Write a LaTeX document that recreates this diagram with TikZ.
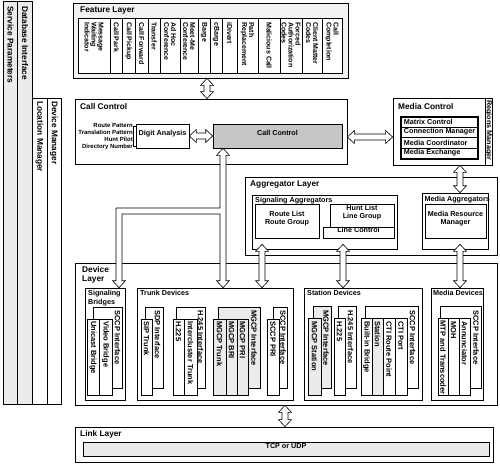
\documentclass[tikz,border=0pt]{standalone}
\usepackage{fontspec}
\setmainfont{Liberation Sans}
\usetikzlibrary{calc,fit}

\newcommand\fntTitle{\bfseries\fontsize{8.3}{9}\selectfont}
\newcommand\fntBox{\bfseries\fontsize{7.2}{8.2}\selectfont}
\newcommand\fntVert{\bfseries\fontsize{7.5}{8}\selectfont}
\newcommand\fntFeat{\bfseries\fontsize{7}{7}\selectfont}
\newcommand\fntSmall{\bfseries\fontsize{6}{7}\selectfont}

\tikzset{
  box/.style={draw, fill=white, line width=0.6pt, inner sep=0pt},
  obox/.style={draw, fill=white, line width=0.8pt, inner sep=0pt},
  gbox/.style={box, fill=gray!16},
  ttl/.style={anchor=north west, inner sep=0pt, font=\fntTitle, align=left},
  stl/.style={anchor=north west, inner sep=0pt, font=\fntBox, align=left},
  vtt/.style={rotate=-90, anchor=west, inner sep=0pt, font=\fntTitle},
  vtd/.style={rotate=-90, anchor=west, inner sep=0pt, font=\fntVert},
  vtf/.style={rotate=-90, anchor=west, inner sep=0pt, font=\fntFeat, align=left},
  hollow/.style={draw, fill=white, line width=0.6pt, line join=miter},
}

\newcommand\varr[2]{\draw[hollow] let \p1=(#1), \p2=(#2) in
  (\x1,\y1) -- ++(6.5pt,-7pt) -- ++(-3.5pt,0) -- (\x1+3pt,\y2+7pt) -- ++(3.5pt,0)
  -- (\x1,\y2) -- ++(-6.5pt,7pt) -- ++(3.5pt,0) -- (\x1-3pt,\y1-7pt) -- ++(-3.5pt,0) -- cycle;}
\newcommand\harr[2]{\draw[hollow] let \p1=(#1), \p2=(#2) in
  (\x1,\y1) -- ++(7pt,6.5pt) -- ++(0,-3.5pt) -- (\x2-7pt,\y1+3pt) -- ++(0,3.5pt)
  -- (\x2,\y1) -- ++(-7pt,-6.5pt) -- ++(0,3.5pt) -- (\x1+7pt,\y1-3pt) -- ++(0,-3.5pt) -- cycle;}

\begin{document}
\begin{tikzpicture}[x=1pt,y=-1pt]
\useasboundingbox (0,0) rectangle (500,464);

% ---------- left bars
\node[gbox, fit={(3,1)(17,404)}] (sp) {};
\node[gbox, fit={(17,1)(32,404)}] (dbi) {};
\node[box, fit={(32,98)(47,404)}] (lm) {};
\node[box, fit={(47,98)(61,404)}] (dm) {};
\node[vtt] (spT) at (10.5,6) {Service Parameters};
\node[vtt] (dbiT) at (25,6) {Database Interface};
\node[vtt] (lmT) at (39.5,101) {Location Manager};
\node[vtt] (dmT) at (54,101) {Device Manager};

% ---------- feature layer
\node[obox, fill=gray!10, fit={(73,3)(348,78)}] (feat) {};
\node[ttl] (featT) at (80,7) {Feature Layer};
\foreach \a/\b/\t in {78/110/{Message\\Waiting\\Indicator}, 110/122.5/{Call Park},
  122.5/135/{Call Pickup}, 135/148/{Call Forward}, 148/160/{Transfer},
  160/180/{Ad Hoc\\Conference}, 180/198/{Meet-Me\\Conference}, 198/210/{Barge},
  210/222/{cBarge}, 222/237/{iDivert}, 237/258/{Path\\Replacement},
  258/280/{Malicious Call}, 280/302/{Forced\\Authorization\\Codes},
  302/322/{Client Matter\\Codes}, 322/342/{Call\\Completion}}{
  \node[box, fit={(\a,18.5)(\b,73)}] (fc\a) {};
  \node[vtf] (ft\a) at ({(\a+\b)/2},22) {\t};
}

% ---------- call control
\node[obox, fit={(75,99)(347,164)}] (cc) {};
\node[ttl] (ccT) at (80,103) {Call Control};
\node[anchor=east, inner sep=0pt, font=\fntSmall, align=right] (pat) at (133,136.5)
  {Route Pattern\\Translation Pattern\\Hunt Pilot\\Directory Number};
\node[box, font=\fntBox, fit={(136,124)(189,148)}] (da) {Digit Analysis};
\draw[line width=0.5pt] (da.west |- 0,126) -- ++(-2,0) -- ++(0,20) -- ++(2,0);
\node[box, fill=gray!45, font=\fntBox, fit={(213,124)(342,148)}] (ccg) {Call Control};

% ---------- media control
\node[obox, fit={(393,98)(492,165)}] (mc) {};
\node[ttl] (mcT) at (398,103) {Media Control};
\node[box, fit={(485,98)(492,165)}] (rm) {};
\node[vtd, font=\fntBox] (rmT) at (488.7,100) {Regions Manager};
\node[box, line width=0.9pt, fit={(400,116)(478,159)}] (mframe) {};
\node[box, fit={(401,117)(477,127)}] (mx) {};
\node[box, fit={(401,127)(477,137)}] (cm) {};
\node[box, fit={(401,137)(477,148)}] (mco) {};
\node[box, fit={(401,148)(477,158)}] (mex) {};
\node[anchor=west, inner sep=0pt, font=\fntBox] at ([xshift=3pt]mx.west) {Matrix Control};
\node[anchor=west, inner sep=0pt, font=\fntBox] at ([xshift=3pt]cm.west) {Connection Manager};
\node[anchor=west, inner sep=0pt, font=\fntBox] at ([xshift=3pt]mco.west) {Media Coordinator};
\node[anchor=west, inner sep=0pt, font=\fntBox] at ([xshift=3pt]mex.west) {Media Exchange};

% ---------- aggregator layer
\node[obox, fit={(245,177)(497,255)}] (agg) {};
\node[ttl] (aggT) at (250,181) {Aggregator Layer};
\node[box, fit={(252,195)(397,249)}] (sig) {};
\node[stl] (sigT) at (255,197.5) {Signaling Aggregators};
\node[box, font=\fntBox, align=center, fit={(255,204)(319,238)}] (rl) {Route List\\Route Group};
\node[box, font=\fntBox, align=center, fit={(330,204)(394,227)}] (hl) {Hunt List\\Line Group};
\node[box, font=\fntBox, fit={(323,227)(394,238)}] (lc) {Line Control};
\node[box, fit={(422,193)(488,249)}] (magg) {};
\node[stl] (maggT) at (424.5,196) {Media Aggregators};
\node[box, font=\fntBox, align=center, fit={(425,204)(486,238)}] (mrm) {Media Resource\\Manager};

% ---------- device layer
\node[obox, fit={(75,263)(497,405)}] (dev) {};
\node[ttl] (devT) at (82,266) {Device\\Layer};

% signaling bridges
\node[box, fit={(85,288)(125,400)}] (sigb) {};
\node[stl] (sigbT) at (88,290.5) {Signaling\\Bridges};
\node[box, fit={(93,307)(122,388)}] (sbp) {};
\node[vtd] at (117.5,310) {SCCP Interface};
\node[box, fit={(87,319)(99,395)}] (ub) {};
\node[vtd] at (93,321) {Unicast Bridge};
\node[box, fit={(99,319)(112,395)}] (vb) {};
\node[vtd] at (105.5,321) {Video Bridge};

% trunk devices
\node[box, fit={(137,288)(293,400)}] (trunk) {};
\node[stl] (trunkT) at (140,290.5) {Trunk Devices};
\node[box, fit={(145,307)(163,388)}] (sdp) {};
\node[vtd] at (157.5,310) {SDP Interface};
\node[box, fit={(141,319)(152,395)}] (sipt) {};
\node[vtd] at (146.5,321) {SIP Trunk};
\node[box, fit={(176,307)(205,388)}] (h245a) {};
\node[vtd] at (200.5,310) {H.245 Interface};
\node[box, fit={(173,319)(184,395)}] (h225a) {};
\node[vtd] at (178.5,321) {H.225};
\node[box, fit={(184,319)(197,395)}] (ict) {};
\node[vtd] at (190.5,321) {Intercluster Trunk};
\node[gbox, fit={(218,307)(260,388)}] (mgcpa) {};
\node[vtd] at (254,310) {MGCP Interface};
\node[gbox, fit={(213,319)(226,395)}] (mgt) {};
\node[vtd] at (219.5,321) {MGCP Trunk};
\node[gbox, fit={(226,319)(237,395)}] (mgb) {};
\node[vtd] at (231.5,321) {MGCP BRI};
\node[gbox, fit={(237,319)(248,395)}] (mgp) {};
\node[vtd] at (242.5,321) {MGCP PRI};
\node[box, fit={(273,307)(287,388)}] (sccpa) {};
\node[vtd] at (283,310) {SCCP Interface};
\node[box, fit={(267,319)(279,395)}] (sccpp) {};
\node[vtd] at (273,321) {SCCP PRI};

% station devices
\node[box, fit={(304,288)(422,400)}] (station) {};
\node[stl] (stationT) at (307,290.5) {Station Devices};
\node[gbox, fit={(313,306)(331,388)}] (mgcpb) {};
\node[vtd] at (326,310) {MGCP Interface};
\node[gbox, fit={(308,318)(321,395)}] (mgs) {};
\node[vtd] at (314.5,321) {MGCP Station};
\node[box, fit={(338,306)(356,388)}] (h245b) {};
\node[vtd] at (350.5,310) {H.245 Interface};
\node[box, fit={(334,318)(345,395)}] (h225b) {};
\node[vtd] at (339.5,321) {H.225};
\node[box, fit={(365,306)(418,388)}] (sccpb) {};
\node[vtd] at (412.5,310) {SCCP Interface};
\node[box, fit={(361,318)(372,395)}] (bib) {};
\node[vtd] at (366.5,321) {Built-in Bridge};
\node[gbox, fit={(372,318)(383,395)}] (stn) {};
\node[vtd] at (377.5,321) {Station};
\node[box, fit={(383,318)(395,395)}] (ctir) {};
\node[vtd] at (389,321) {CTI Route Point};
\node[box, fit={(395,318)(407,395)}] (ctip) {};
\node[vtd] at (401,321) {CTI Port};

% media devices
\node[box, fit={(431,288)(483,400)}] (mdev) {};
\node[stl] (mdevT) at (433,290.5) {Media Devices};
\node[box, fit={(440,306)(481,388)}] (sccpc) {};
\node[vtd] at (476,310) {SCCP Interface};
\node[box, fit={(438,318)(448,395)}] (mtp) {};
\node[vtd] at (443,320.5) {MTP and Transcoder};
\node[box, fit={(448,318)(459,395)}] (moh) {};
\node[vtd] at (453.5,321) {MOH};
\node[box, fit={(459,318)(470,395)}] (ann) {};
\node[vtd] at (464.5,321) {Annunciator};

% ---------- link layer
\node[obox, fit={(75,427)(493,462)}] (link) {};
\node[ttl] (linkT) at (80,430) {Link Layer};
\node[gbox, font=\fntBox, fit={(83,442)(489,456)}] (tcp) {TCP or UDP};

% ---------- connectors
\varr{feat.south -| 207,0}{cc.north}
\harr{da.east}{ccg.west}
\harr{cc.east |- 0,137}{mc.west}
\varr{mc.south -| 460,0}{magg.north}
\varr{[yshift=5pt]sig.south -| 262,0}{trunk.north}
\varr{[yshift=5pt]sig.south -| 343,0}{station.north}
\varr{[yshift=5pt]magg.south -| 460,0}{mdev.north}
\varr{dev.south -| 285,0}{link.north}
\draw[hollow] let \p1=(ccg.south -| 223,0), \p2=(trunk.north), \p3=(sigb.north -| 119,0) in
  (\x1,\y1) -- ++(6.5pt,-7pt) -- ++(-3.5pt,0) -- (\x1+3pt,\y2+7pt) -- ++(3.5pt,0)
  -- (\x1,\y2) -- ++(-6.5pt,7pt) -- ++(3.5pt,0) -- (\x1-3pt,-214pt) -- (\x3+3pt,-214pt)
  -- (\x3+3pt,\y3+7pt) -- ++(3.5pt,0) -- (\x3,\y3) -- ++(-6.5pt,7pt) -- ++(3.5pt,0)
  -- (\x3-3pt,-208pt) -- (\x1-3pt,-208pt) -- (\x1-3pt,\y1-7pt) -- ++(-3.5pt,0) -- cycle;
\end{tikzpicture}
\end{document}
